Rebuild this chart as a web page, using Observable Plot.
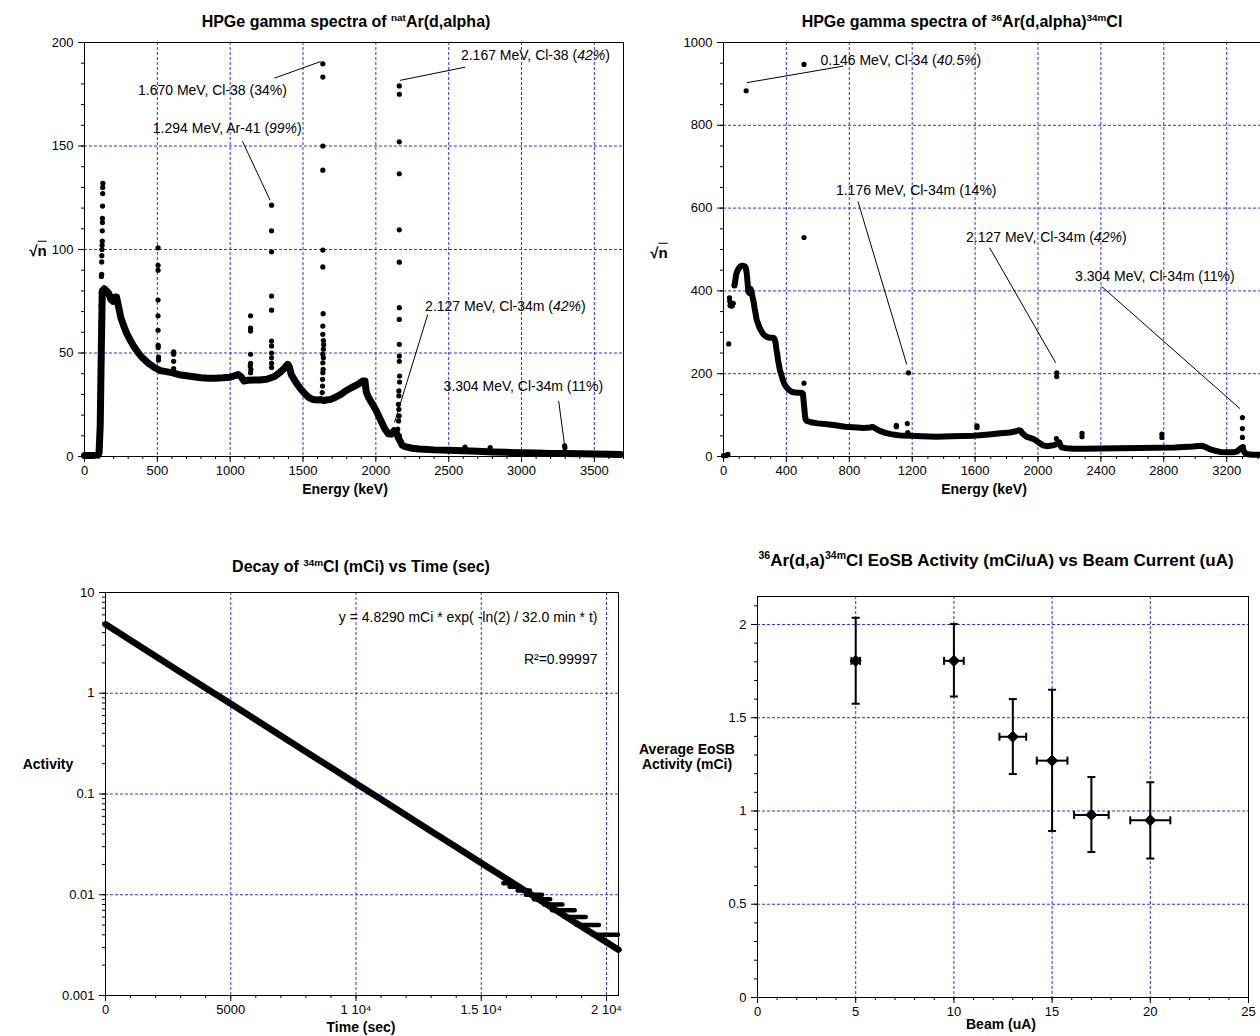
<!DOCTYPE html>
<html>
<head>
<meta charset="utf-8">
<script src="https://cdn.jsdelivr.net/npm/d3@7"></script>
<script src="https://cdn.jsdelivr.net/npm/@observablehq/plot@0.6"></script>
<style>
  html, body { margin: 0; padding: 0; background: #fff; overflow: hidden; }
  #wrap { position: relative; width: 1260px; height: 1036px; font-family: 'Liberation Sans', Arial, Helvetica, sans-serif; color: #000; }
  .lbl { position: absolute; transform: translate(-50%, -50%); white-space: nowrap; font-weight: bold; font-size: 14px; text-align: center; line-height: 1.1; }
  .ttl { font-size: 16px; }
  .ttl sup { font-size: 0.62em; vertical-align: 0.6em; line-height: 0; }
  .big { font-size: 17px; }
  .ov { text-decoration: overline; }
</style>
</head>
<body>
<div id="wrap">
  <div class="lbl ttl" style="left:346px; top:22px">HPGe gamma spectra of <sup>nat</sup>Ar(d,alpha)</div>
  <div class="lbl ttl" style="left:962px; top:22px">HPGe gamma spectra of <sup>36</sup>Ar(d,alpha)<sup>34m</sup>Cl</div>
  <div class="lbl ttl" style="left:361px; top:567px">Decay of <sup>34m</sup>Cl (mCi) vs Time (sec)</div>
  <div class="lbl ttl big" style="left:996px; top:561px"><sup>36</sup>Ar(d,a)<sup>34m</sup>Cl EoSB Activity (mCi/uA) vs Beam Current (uA)</div>
  <div class="lbl" style="left:345px; top:490px">Energy (keV)</div>
  <div class="lbl" style="left:984px; top:490px">Energy (keV)</div>
  <div class="lbl" style="left:361px; top:1028px">Time (sec)</div>
  <div class="lbl" style="left:1001px; top:1025px">Beam (uA)</div>
  <div class="lbl" style="left:38px; top:251px; font-size:15px">√<span class="ov">n</span></div>
  <div class="lbl" style="left:659px; top:253px; font-size:15px">√<span class="ov">n</span></div>
  <div class="lbl" style="left:48px; top:765px">Activity</div>
  <div class="lbl" style="left:687px; top:757px">Average EoSB<br>Activity (mCi)</div>
</div>
<script>
// ---------------- DATA ----------------
// Top-left: natAr spectrum, continuum (energy keV, sqrt n)
const tlContinuum = [
  [0,0.5],[60,0.5],[95,0.8],[100,2],[108,15],[115,50],[122,80],[135,81],[150,80],[165,79],[180,76],[195,75],
  [210,77],[220,77],[235,72],[250,67],[270,63],[290,59.5],[315,56],[340,53],[370,50],[400,47.5],[440,45],
  [480,43],[520,41.5],[560,41],[600,40.5],[650,39.5],[700,39],[750,38.5],[800,38],[850,37.8],[900,37.8],
  [950,38],[1000,38.3],[1030,39],[1055,39.6],[1075,38.5],[1095,36.5],[1120,36.8],[1160,37],[1200,37],
  [1250,37.3],[1300,38.5],[1340,40.5],[1370,42.5],[1395,44.5],[1405,43.5],[1420,39.5],[1450,36],[1480,33],
  [1510,30.5],[1540,28.5],[1570,27.5],[1600,27.3],[1625,27.5],[1640,27],[1660,27.3],[1690,27.6],[1720,28.5],
  [1760,30],[1800,32],[1840,33.5],[1880,35],[1910,36.5],[1925,36.5],[1935,31],[1950,28.5],[1975,25.5],
  [2000,22.5],[2030,18],[2060,13.5],[2085,11],[2105,10.8],[2125,12.5],[2140,11.5],[2155,9],[2170,7],
  [2180,5.5],[2200,4.8],[2250,4],[2300,3.6],[2400,3.2],[2500,3],[2600,2.8],[2700,2.5],[2800,2.2],[2900,2],
  [3000,1.8],[3100,1.7],[3200,1.5],[3300,1.4],[3400,1.3],[3500,1.2],[3600,1.1],[3680,1]
];
// Top-left: peak channels (energy keV, sqrt n)
const tlPeaks = [
  [104,2],[106,5],[108,18],[109,29],[110,37],[111,44],[112,50],[112,58],[113,65],[114,73],[115,79],[116,87],
  [118,88],[118,94],[119,97],[120,100],[121,102],[122,104],[122,109],[123,113],[123,115],[124,121],[125,127],
  [125,130],[126,132],
  [505,100.8],[505,92.4],[505,90],[505,75.6],[505,68],[505,61],[506,53.7],[506,52.6],[508,48],[508,46.6],
  [612,50.5],[612,49.4],[612,46],[612,42.5],
  [1140,68],[1140,62],[1140,60.6],[1140,49.4],[1140,45],[1138,43.7],[1142,42],[1140,40.5],
  [1284,121.4],[1284,109],[1284,98.9],[1284,77.5],[1284,70.7],[1284,55.8],[1284,53.4],[1284,50],[1284,47.7],
  [1284,45],[1284,43],
  [1636,189.7],[1636,183.3],[1636,150],[1636,138.3],[1636,99.7],[1636,91.6],[1638,69],[1636,63],[1636,59],
  [1640,56],[1642,54],[1640,51.8],[1636,49.4],[1640,47.7],[1636,45.3],[1638,42.1],[1636,40.5],[1634,37.3],
  [1634,34],[1632,30.9],
  [2161,179],[2161,175],[2161,152],[2161,136.6],[2161,109.5],[2161,93.9],[2161,71.9],[2161,66.2],[2161,54.2],
  [2161,48.5],[2161,46],[2163,38.9],[2163,36],[2158,31.7],[2158,29.3],[2155,25.2],[2158,22.8],[2160,19.6],
  [2156,17.2],[2150,13.2],[2162,10],
  [2612,4.5],[2785,4.3],[3296,5.2],[3298,4.2]
];
// Top-left annotations
const tlLabels = ["1.670 MeV, Cl-38 (34%)","1.294 MeV, Ar-41 (99%)","2.167 MeV, Cl-38 (42%)","2.127 MeV, Cl-34m (42%)","3.304 MeV, Cl-34m (11%)"];
const tlLabelItalic = [false,true,true,true,false];
const tlLabelAt = [[367,176.7],[469,158.4],[2584,193.6],[2338,72.3],[2465,34]];
const tlLeaderFrom = [[1304,182.8],[1084,152.3],[2614,188.1],[2356,68.6],[3255,26.8]];
const tlLeaderTo = [[1621,190.8],[1274,123.8],[2166,181.7],[2128,16.4],[3296,5.1]];

// Top-right: 36Ar spectrum
const trLowDots = [[0,2],[8,2],[15,3],[22,3],[28,5],[33,272],[38,383],[40,375],[42,365],[46,371],[52,363],[57,365],[62,370],[68,413],[70,415]];
const trContinuum = [
  [70,413],[75,425],[80,439],[88,448],[98,455],[110,460],[121,461],[132,460],[140,458],[147,445],[152,425],
  [158,398],[165,395],[172,405],[178,398],[185,385],[191,375],[197,360],[203,347],[211,330],[219,322],
  [228,312],[238,305],[252,296],[266,291],[281,288],[296,287],[310,287],[319,287],[325,283],[331,275],
  [337,258],[342,247],[346,235],[352,222],[359,208],[366,200],[375,188],[384,178],[395,170],[412,162],
  [436,156],[470,154],[498,154],[505,152],
  [518,100],[522,90],[529,86],[545,84],[564,82],[600,80],[657,78],[700,76],[773,72],[850,70],[890,69],
  [930,70],[948,71.5],[965,68],[994,62],[1030,57],[1064,54],[1100,52],[1123,51],[1192,50],[1260,49],
  [1355,48],[1450,49],[1520,49.5],[1588,50],[1650,52],[1705,54],[1760,56],[1821,58],[1860,61],[1880,63.5],
  [1890,62],[1896,58],[1910,53],[1926,48],[1950,45],[1973,42],[2000,35],[2031,27],[2055,25],[2077,26],
  [2100,27],[2119,30],[2136,34],[2142,27],[2150,22],[2180,20],[2230,19],[2287,19],[2400,19.5],[2520,20],
  [2640,20.5],[2753,21],[2870,22],[2986,24],[3020,25.5],[3044,26],[3070,22],[3091,18],[3125,14],[3160,11],
  [3200,10],[3242,10],[3265,12],[3277,16],[3290,20],[3300,22],[3310,12],[3323,6],[3360,4],[3410,4]
];
const trPeaks = [
  [144,883.5],[512,947],[512,529],[512,177],[516,100],[1099,75.5],[1099,72],[1169,79.5],[1176,202],[1172,58],
  [1612,74],[1612,70],[2119,202],[2119,193],[2117,43],[2280,56],[2280,48],[2788,54],[2788,46],
  [3300,94],[3300,67.5],[3300,46],[3305,24]
];
const trLabels = ["0.146 MeV, Cl-34 (40.5%)","1.176 MeV, Cl-34m (14%)","2.127 MeV, Cl-34m (42%)","3.304 MeV, Cl-34m (11%)"];
const trLabelItalic = [true,false,true,false];
const trLabelAt = [[617,956],[715,643],[1542,530],[2236,435]];
const trLeaderFrom = [[762,943],[855,616],[1693,504],[2404,411]];
const trLeaderTo = [[149,903],[1165,222.5],[2112,226.5],[3284,115.7]];

// Bottom-left: decay of 34mCl (time s, activity mCi)
const decayTime = [0,1000,2000,3000,4000,5000,6000,7000,8000,9000,10000,11000,12000,13000,14000,15000,16000,17000,18000,19000,20000,20479];
const decayActivity = [4.83,3.35,2.33,1.62,1.13,0.785,0.545,0.378,0.263,0.183,0.127,0.0885,0.0615,0.0428,0.0298,0.0207,0.0144,0.0100,0.00697,0.00485,0.00337,0.00285];
// quantized measured tail (level mCi, from s, to s)
const tailLevel = [0.004,0.005,0.006,0.007,0.008,0.009,0.010,0.011,0.012,0.013];
const tailFrom  = [19480,18830,18340,17850,17530,17120,16800,16470,16150,15900];
const tailTo    = [20479,19720,19190,18750,18260,17770,17450,16960,16550,16280];
const fitText = "y = 4.8290 mCi * exp( -ln(2) / 32.0 min * t)";
const r2Text = "R²=0.99997";

// Bottom-right: EoSB activity vs beam current
const beam = [5,10,13,15,17,20];
const beamErr = [0.22,0.5,0.68,0.78,0.88,1.02];
const eosb = [1.805,1.805,1.398,1.27,0.979,0.95];
const eosbHi = [2.036,2.002,1.6,1.65,1.182,1.154];
const eosbLo = [1.575,1.614,1.198,0.893,0.78,0.745];

// ---------------- HELPERS ----------------
const GRID = "#3030ee";
const FONT = "'Liberation Sans', Arial, Helvetica, sans-serif";
const baseStyle = {fontFamily: FONT, fontSize: "13px", background: "transparent", color: "black", overflow: "visible"};
const range = (a, b, s) => d3.range(a, b + s / 2, s).map(v => +v.toFixed(6));
const gridOpts = {stroke: GRID, strokeOpacity: 1, strokeWidth: 1, strokeDasharray: "3,2"};
const fmt = d => String(d);
const none = () => "";
const ANNFS = 14;

function place(svg, left, top) {
  svg.style.position = "absolute";
  svg.style.left = left + "px";
  svg.style.top = top + "px";
  svg.querySelectorAll('g[aria-label$="tick label"]').forEach(g => {
    g.setAttribute("font-size", "13");
    g.style.fontSize = "13px";
    g.querySelectorAll("text").forEach(t => { t.style.fontSize = "13px"; });
  });
  document.getElementById("wrap").appendChild(svg);
}
function italicize(svg, labels, flags) {
  const set = new Set(labels.filter((l, i) => flags[i]));
  const ns = "http://www.w3.org/2000/svg";
  svg.querySelectorAll("text").forEach(t => {
    const s = t.textContent;
    if (!set.has(s)) return;
    const m = s.match(/^(.*\()([^()]*)(\))$/);
    if (!m) return;
    t.textContent = "";
    [[m[1], false], [m[2], true], [m[3], false]].forEach(([txt, it]) => {
      const sp = document.createElementNS(ns, "tspan");
      sp.textContent = txt;
      if (it) sp.setAttribute("font-style", "italic");
      t.appendChild(sp);
    });
  });
}
function annData(labels, at, from, to) {
  return labels.map((l, i) => ({l, x: at[i][0], y: at[i][1], x1: from[i][0], y1: from[i][1], x2: to[i][0], y2: to[i][1]}));
}
const hCap = {draw(ctx, size) { const r = Math.sqrt(size / Math.PI); ctx.moveTo(-r, 0); ctx.lineTo(r, 0); }};
const vCap = {draw(ctx, size) { const r = Math.sqrt(size / Math.PI); ctx.moveTo(0, -r); ctx.lineTo(0, r); }};
const majX = (t, f) => Plot.axisX(t, {tickSize: 6, tickPadding: 3, tickFormat: f || fmt, label: null});
const minX = t => Plot.axisX(t, {tickSize: 3, tickFormat: none, label: null});
const majY = (t, f) => Plot.axisY(t, {tickSize: 6, tickPadding: 5, tickFormat: f || fmt, label: null});
const minY = t => Plot.axisY(t, {tickSize: 3, tickFormat: none, label: null});

// ---------------- TOP LEFT ----------------
{
  const ann = annData(tlLabels, tlLabelAt, tlLeaderFrom, tlLeaderTo);
  const svg = Plot.plot({
    width: 640, height: 500, marginLeft: 84, marginRight: 17, marginTop: 42, marginBottom: 44,
    style: baseStyle,
    x: {domain: [0, 3700]}, y: {domain: [0, 200]},
    marks: [
      Plot.gridX(range(0, 3500, 500), gridOpts),
      Plot.gridY(range(0, 200, 50), gridOpts),
      Plot.frame({stroke: "black"}),
      majX(range(0, 3500, 500)), minX(range(0, 3700, 100)),
      majY(range(0, 200, 50)), minY(range(0, 200, 10)),
      Plot.line(tlContinuum, {x: d => d[0], y: d => d[1], stroke: "black", strokeWidth: 7, strokeLinejoin: "round", strokeLinecap: "round"}),
      Plot.dot(tlPeaks, {x: d => d[0], y: d => d[1], r: 2.6, fill: "black", stroke: null}),
      Plot.link(ann, {x1: "x1", y1: "y1", x2: "x2", y2: "y2", stroke: "black", strokeWidth: 1}),
      Plot.text(ann, {x: "x", y: "y", text: "l", textAnchor: "start", fill: "black", fontSize: ANNFS})
    ]
  });
  italicize(svg, tlLabels, tlLabelItalic);
  place(svg, 0, 0);
}

// ---------------- TOP RIGHT ----------------
{
  const ann = annData(trLabels, trLabelAt, trLeaderFrom, trLeaderTo);
  const svg = Plot.plot({
    width: 620, height: 500, marginLeft: 83, marginRight: 0, marginTop: 42, marginBottom: 44,
    style: baseStyle,
    x: {domain: [0, 3415]}, y: {domain: [0, 1000]},
    marks: [
      Plot.gridX(range(0, 3200, 400), gridOpts),
      Plot.gridY(range(0, 1000, 200), gridOpts),
      Plot.ruleX([0], {stroke: "black"}),
      Plot.ruleY([0, 1000], {stroke: "black"}),
      majX(range(0, 3200, 400)), minX(range(0, 3400, 100)),
      majY(range(0, 1000, 200)), minY(range(0, 1000, 50)),
      Plot.line(trContinuum, {x: d => d[0], y: d => d[1], stroke: "black", strokeWidth: 6, strokeLinejoin: "round", strokeLinecap: "round"}),
      Plot.dot(trLowDots, {x: d => d[0], y: d => d[1], r: 2.6, fill: "black", stroke: null}),
      Plot.dot(trPeaks, {x: d => d[0], y: d => d[1], r: 2.6, fill: "black", stroke: null}),
      Plot.link(ann, {x1: "x1", y1: "y1", x2: "x2", y2: "y2", stroke: "black", strokeWidth: 1}),
      Plot.text(ann, {x: "x", y: "y", text: "l", textAnchor: "start", fill: "black", fontSize: ANNFS})
    ]
  });
  italicize(svg, trLabels, trLabelItalic);
  place(svg, 640, 0);
}

// ---------------- BOTTOM LEFT ----------------
{
  const decay = decayTime.map((t, i) => ({t, a: decayActivity[i]}));
  const tail = tailLevel.map((v, i) => ({v, x1: tailFrom[i], x2: tailTo[i]}));
  const minorY = [];
  [0.001, 0.01, 0.1, 1].forEach(d => { for (let k = 1; k <= 9; k++) minorY.push(+(d * k).toPrecision(3)); });
  minorY.push(10);
  const xfmt = d => d === 0 ? "0" : d < 10000 ? String(d) : (d / 10000) + " 10⁴";
  const svg = Plot.plot({
    width: 640, height: 496, marginLeft: 105, marginRight: 22, marginTop: 52, marginBottom: 41,
    style: baseStyle,
    x: {domain: [0, 20479]}, y: {type: "log", domain: [0.001, 10]},
    marks: [
      Plot.gridX([0, 5000, 10000, 15000, 20000], gridOpts),
      Plot.gridY([0.001, 0.01, 0.1, 1, 10], gridOpts),
      Plot.frame({stroke: "black"}),
      majX([0, 5000, 10000, 15000, 20000], xfmt), minX(range(0, 20000, 1000)),
      majY([0.001, 0.01, 0.1, 1, 10]), minY(minorY),
      Plot.ruleY(tail, {y: "v", x1: "x1", x2: "x2", stroke: "black", strokeWidth: 4.5, strokeLinecap: "round"}),
      Plot.line(decay, {x: "t", y: "a", stroke: "black", strokeWidth: 6.5, strokeLinecap: "round"}),
      Plot.text([fitText], {x: 19640, y: 5.65, text: d => d, textAnchor: "end", fill: "black", fontSize: ANNFS}),
      Plot.text([r2Text], {x: 19640, y: 2.16, text: d => d, textAnchor: "end", fill: "black", fontSize: ANNFS})
    ]
  });
  place(svg, 0, 540);
}

// ---------------- BOTTOM RIGHT ----------------
{
  const pts = beam.map((b, i) => ({b, e: beamErr[i], y: eosb[i], hi: eosbHi[i], lo: eosbLo[i]}));
  const svg = Plot.plot({
    width: 620, height: 496, marginLeft: 117, marginRight: 12, marginTop: 56, marginBottom: 39,
    style: baseStyle,
    x: {domain: [0, 25]}, y: {domain: [0, 2.15]},
    marks: [
      Plot.gridX(range(0, 25, 5), gridOpts),
      Plot.gridY(range(0, 2, 0.5), gridOpts),
      Plot.frame({stroke: "black"}),
      majX(range(0, 25, 5)), minX(range(0, 25, 1)),
      majY(range(0, 2, 0.5)), minY(range(0, 2.1, 0.1)),
      Plot.ruleX(pts, {x: "b", y1: "lo", y2: "hi", stroke: "black", strokeWidth: 2}),
      Plot.ruleY(pts, {y: "y", x1: d => d.b - d.e, x2: d => d.b + d.e, stroke: "black", strokeWidth: 2}),
      Plot.dot(pts, {x: "b", y: "hi", symbol: hCap, r: 4, stroke: "black", strokeWidth: 2, fill: "none"}),
      Plot.dot(pts, {x: "b", y: "lo", symbol: hCap, r: 4, stroke: "black", strokeWidth: 2, fill: "none"}),
      Plot.dot(pts, {x: d => d.b - d.e, y: "y", symbol: vCap, r: 4, stroke: "black", strokeWidth: 2, fill: "none"}),
      Plot.dot(pts, {x: d => d.b + d.e, y: "y", symbol: vCap, r: 4, stroke: "black", strokeWidth: 2, fill: "none"}),
      Plot.dot(pts, {x: "b", y: "y", symbol: "diamond2", r: 5, fill: "black", stroke: "black", strokeWidth: 1})
    ]
  });
  place(svg, 640, 540);
}
</script>
</body>
</html>
